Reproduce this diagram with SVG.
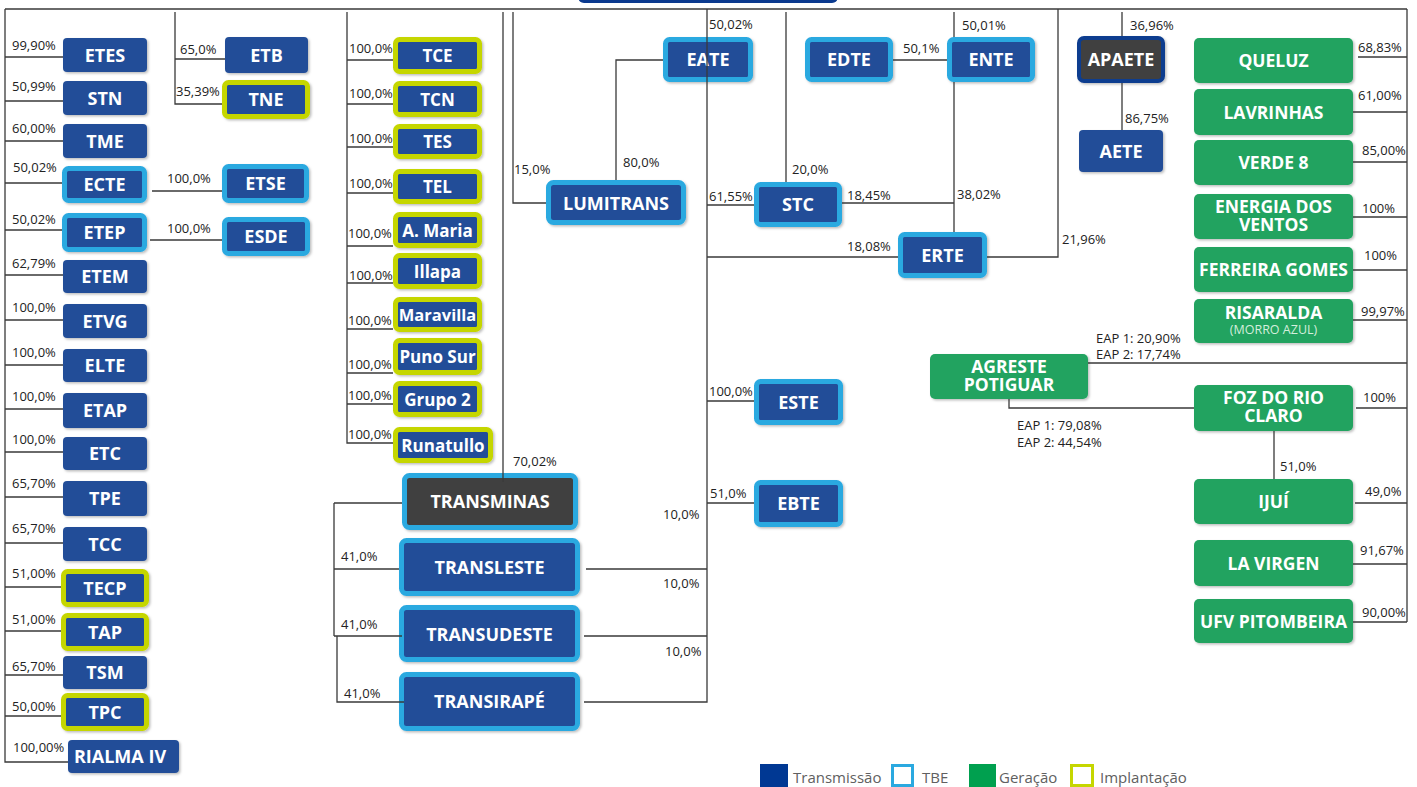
<svg xmlns="http://www.w3.org/2000/svg" width="1417" height="787" viewBox="0 0 1417 787">
<defs>
<filter id="sh" x="-10%" y="-10%" width="130%" height="140%">
<feDropShadow dx="1.5" dy="1.5" stdDeviation="1.2" flood-color="#000" flood-opacity="0.25"/>
</filter>
</defs>
<style>
.b{fill:#224e98;filter:url(#sh)}
.t{fill:#224e98;stroke:#2aa9e0;stroke-width:5;filter:url(#sh)}
.y{fill:#224e98;stroke:#c5d600;stroke-width:5;filter:url(#sh)}
.g{fill:#23a360;filter:url(#sh)}
.d{fill:#404040;stroke:#2aa9e0;stroke-width:5;filter:url(#sh)}
.ap{fill:#404040;stroke:#0d3c8f;stroke-width:4;filter:url(#sh)}
text{font-family:"Open Sans","Noto Sans","Liberation Sans",sans-serif}
.n{fill:#fff;font-weight:700;font-size:18px;text-anchor:middle}
.m{fill:#fff;font-weight:700;font-size:17px;text-anchor:middle}
.gn{fill:#fff;font-weight:700;font-size:17.5px;text-anchor:middle}
.s{fill:#d4eedc;font-size:12.5px;font-weight:400}
.p{fill:#222;font-size:13px}
.lg{fill:#606060;font-size:15px}
.c{fill:none;stroke:#3a3a3a;stroke-width:1.3}
</style>
<rect x="578" y="-30" width="260" height="33" rx="6" fill="#0b3a8f"/>

<g id="ETES"><rect class="b" x="63" y="38" width="84" height="34" rx="4"/><text class="n" x="105" y="61.5">ETES</text></g>
<g id="STN"><rect class="b" x="63" y="81" width="84" height="34" rx="4"/><text class="n" x="105" y="104.5">STN</text></g>
<g id="TME"><rect class="b" x="63" y="124" width="84" height="34" rx="4"/><text class="n" x="105" y="147.5">TME</text></g>
<g id="ECTE"><rect class="t" x="64.5" y="168.5" width="80" height="32" rx="4"/><text class="n" x="104.5" y="191">ECTE</text></g>
<g id="ETEP"><rect class="t" x="64.5" y="215.5" width="80" height="34" rx="4"/><text class="n" x="104.5" y="239">ETEP</text></g>
<g id="ETEM"><rect class="b" x="63" y="260" width="84" height="33" rx="4"/><text class="n" x="105" y="283">ETEM</text></g>
<g id="ETVG"><rect class="b" x="63" y="304" width="84" height="34" rx="4"/><text class="n" x="105" y="327.5">ETVG</text></g>
<g id="ELTE"><rect class="b" x="63" y="349" width="84" height="33" rx="4"/><text class="n" x="105" y="372">ELTE</text></g>
<g id="ETAP"><rect class="b" x="63" y="393" width="84" height="35" rx="4"/><text class="n" x="105" y="417">ETAP</text></g>
<g id="ETC"><rect class="b" x="63" y="437" width="84" height="33" rx="4"/><text class="n" x="105" y="460">ETC</text></g>
<g id="TPE"><rect class="b" x="63" y="481" width="84" height="35" rx="4"/><text class="n" x="105" y="505">TPE</text></g>
<g id="TCC"><rect class="b" x="63" y="527" width="84" height="34" rx="4"/><text class="n" x="105" y="550.5">TCC</text></g>
<g id="TECP"><rect class="y" x="63.5" y="571.5" width="83" height="33" rx="4"/><text class="n" x="105" y="594.5">TECP</text></g>
<g id="TAP"><rect class="y" x="63.5" y="615.5" width="83" height="33" rx="4"/><text class="n" x="105" y="638.5">TAP</text></g>
<g id="TSM"><rect class="b" x="63" y="656" width="84" height="33" rx="4"/><text class="n" x="105" y="679">TSM</text></g>
<g id="TPC"><rect class="y" x="63.5" y="695.5" width="83" height="33" rx="4"/><text class="n" x="105" y="718.5">TPC</text></g>
<g id="RIALMA"><rect class="b" x="68" y="740" width="111" height="33" rx="4"/><text class="n" x="120" y="763">RIALMA  IV</text></g>

<g id="ETB"><rect class="b" x="225" y="37" width="83" height="36" rx="4"/><text class="n" x="266.5" y="61.5">ETB</text></g>
<g id="TNE"><rect class="y" x="224.5" y="82.5" width="83" height="34" rx="4"/><text class="n" x="266" y="106">TNE</text></g>
<g id="ETSE"><rect class="t" x="224.5" y="166.5" width="82" height="34" rx="4"/><text class="n" x="265.5" y="190">ETSE</text></g>
<g id="ESDE"><rect class="t" x="224.5" y="219.5" width="83" height="34" rx="4"/><text class="n" x="266" y="243">ESDE</text></g>

<g id="TCE"><rect class="y" x="395.5" y="39.5" width="84" height="32" rx="4"/><text class="m" x="437.5" y="62">TCE</text></g>
<g id="TCN"><rect class="y" x="395.5" y="83.5" width="84" height="31" rx="4"/><text class="m" x="437.5" y="105.5">TCN</text></g>
<g id="TES"><rect class="y" x="395.5" y="126.5" width="84" height="30" rx="4"/><text class="m" x="437.5" y="148">TES</text></g>
<g id="TEL"><rect class="y" x="395.5" y="171.5" width="84" height="30" rx="4"/><text class="m" x="437.5" y="193">TEL</text></g>
<g id="AMaria"><rect class="y" x="395.5" y="214.5" width="84" height="31" rx="4"/><text class="m" x="437.5" y="236.5">A. Maria</text></g>
<g id="Illapa"><rect class="y" x="395.5" y="255.5" width="84" height="31" rx="4"/><text class="m" x="437.5" y="277.5">Illapa</text></g>
<g id="Maravilla"><rect class="y" x="395.5" y="299.5" width="84" height="30" rx="4"/><text class="m" x="437.5" y="321" style="font-size:16.5px">Maravilla</text></g>
<g id="PunoSur"><rect class="y" x="395.5" y="340.5" width="84" height="32" rx="4"/><text class="m" x="437.5" y="363">Puno Sur</text></g>
<g id="Grupo2"><rect class="y" x="395.5" y="383.5" width="84" height="31" rx="4"/><text class="m" x="437.5" y="405.5">Grupo 2</text></g>
<g id="Runatullo"><rect class="y" x="395.5" y="429.5" width="95" height="31" rx="4"/><text class="m" x="443" y="451.5">Runatullo</text></g>

<g id="TRANSMINAS"><rect class="d" x="404.5" y="475.5" width="171" height="52" rx="5"/><text class="n" x="490" y="508">TRANSMINAS</text></g>
<g id="TRANSLESTE"><rect class="t" x="401.5" y="540.5" width="176" height="53" rx="5"/><text class="n" x="489.5" y="574">TRANSLESTE</text></g>
<g id="TRANSUDESTE"><rect class="t" x="401.5" y="607.5" width="176" height="52" rx="5"/><text class="n" x="489.5" y="641">TRANSUDESTE</text></g>
<g id="TRANSIRAPE"><rect class="t" x="401.5" y="674.5" width="176" height="54" rx="5"/><text class="n" x="489.5" y="708">TRANSIRAPÉ</text></g>

<g id="LUMITRANS"><rect class="t" x="548.5" y="182.5" width="135" height="40" rx="5"/><text class="n" x="616" y="209.5">LUMITRANS</text></g>
<g id="EATE"><rect class="t" x="665.5" y="39.5" width="85" height="40" rx="4"/><text class="n" x="708" y="66">EATE</text></g>
<g id="STC"><rect class="t" x="756.5" y="184.5" width="83" height="40" rx="4"/><text class="n" x="798" y="211">STC</text></g>
<g id="EDTE"><rect class="t" x="807.5" y="39.5" width="83" height="40" rx="4"/><text class="n" x="849" y="66">EDTE</text></g>
<g id="ENTE"><rect class="t" x="949.5" y="39.5" width="83" height="40" rx="4"/><text class="n" x="991" y="66">ENTE</text></g>
<g id="ERTE"><rect class="t" x="900.5" y="234.5" width="84" height="41" rx="4"/><text class="n" x="942.5" y="261.5">ERTE</text></g>
<g id="ESTE"><rect class="t" x="756.5" y="381.5" width="84" height="41" rx="4"/><text class="n" x="798.5" y="408.5">ESTE</text></g>
<g id="EBTE"><rect class="t" x="756.5" y="482.5" width="84" height="42" rx="4"/><text class="n" x="798.5" y="510">EBTE</text></g>
<g id="APAETE"><rect class="ap" x="1079" y="38" width="84" height="43" rx="5"/><text class="n" x="1121" y="66">APAETE</text></g>
<g id="AETE"><rect class="b" x="1079" y="130" width="84" height="42" rx="4"/><text class="n" x="1121" y="157.5">AETE</text></g>

<g id="QUELUZ"><rect class="g" x="1194" y="38" width="159" height="45" rx="5"/><text class="gn" x="1273.5" y="67">QUELUZ</text></g>
<g id="LAVRINHAS"><rect class="g" x="1194" y="89" width="159" height="46" rx="5"/><text class="gn" x="1273.5" y="118.5">LAVRINHAS</text></g>
<g id="VERDE8"><rect class="g" x="1194" y="140" width="159" height="45" rx="5"/><text class="gn" x="1273.5" y="169">VERDE 8</text></g>
<g id="ENERGIA"><rect class="g" x="1194" y="194" width="159" height="45" rx="5"/><text class="gn" x="1273.5" y="213">ENERGIA DOS<tspan x="1273.5" dy="18">VENTOS</tspan></text></g>
<g id="FERREIRA"><rect class="g" x="1194" y="247" width="159" height="45" rx="5"/><text class="gn" x="1273.5" y="276">FERREIRA GOMES</text></g>
<g id="RISARALDA"><rect class="g" x="1194" y="299" width="159" height="44" rx="5"/><text class="gn" x="1273.5" y="319">RISARALDA<tspan class="s" x="1273.5" dy="15">(MORRO AZUL)</tspan></text></g>
<g id="AGRESTE"><rect class="g" x="930" y="354" width="158" height="45" rx="5"/><text class="gn" x="1009" y="373">AGRESTE<tspan x="1009" dy="18">POTIGUAR</tspan></text></g>
<g id="FOZ"><rect class="g" x="1194" y="385" width="159" height="46" rx="5"/><text class="gn" x="1273.5" y="404">FOZ DO RIO<tspan x="1273.5" dy="18">CLARO</tspan></text></g>
<g id="IJUI"><rect class="g" x="1194" y="479" width="159" height="45" rx="5"/><text class="gn" x="1273.5" y="508">IJUÍ</text></g>
<g id="LAVIRGEN"><rect class="g" x="1194" y="540" width="159" height="46" rx="5"/><text class="gn" x="1273.5" y="569.5">LA VIRGEN</text></g>
<g id="UFV"><rect class="g" x="1194" y="599" width="159" height="44" rx="5"/><text class="gn" x="1273.5" y="627.5">UFV PITOMBEIRA</text></g>

<g id="connectors" class="c">
<path d="M5,9 H1407 M5,9 V762 H68"/>
<path d="M5,57 H63 M5,101 H63 M5,141 H63 M5,183 H62 M5,230 H62 M5,275 H63 M5,320 H63 M5,365 H63 M5,409 H63 M5,452 H63 M5,497 H63 M5,543 H63 M5,587 H61 M5,631 H61 M5,675 H63 M5,716 H61"/>
<path d="M175,12 V104 H222 M175,59 H225 M152,191 H222 M150,240 H222"/>
<path d="M347,12 V443 H393 M347,60 H393 M347,104 H393 M347,147 H393 M347,193 H393 M347,246 H393 M347,283 H393 M347,329 H393 M347,373 H393 M347,404 H393"/>
<path d="M503,12 V482 M513,12 V203 H546 M616,180 V60 H663"/>
<path d="M707,9 V702 H584 M707,205 H754 M707,257 H898 M707,401 H754 M707,503 H754 M586,569 H707 M584,636 H707"/>
<path d="M334,503 H402 M334,503 V636 M334,569 H399 M334,636 H402 M337,636 V702 H404"/>
<path d="M786,12 V182 M842,203 H954 M893,60 H947 M954,12 V37 M954,82 V232 M987,257 H1058 V9 M1122,12 V36 M1122,83 V130"/>
<path d="M1407,9 V622 M1358,57 H1407 M1353,112 H1407 M1353,162 H1407 M1353,217 H1407 M1353,270 H1407 M1353,320 H1407 M1088,363 H1407 M1009,399 V408 H1194 M1356,408 H1407 M1274,431 V479 M1355,503 H1407 M1353,564 H1407 M1353,622 H1407"/>
</g>

<g id="labels" class="p">
<text x="12" y="50">99,90%</text>
<text x="12" y="91">50,99%</text>
<text x="12" y="133">60,00%</text>
<text x="13" y="172">50,02%</text>
<text x="12" y="224">50,02%</text>
<text x="12" y="268">62,79%</text>
<text x="12" y="312">100,0%</text>
<text x="12" y="357">100,0%</text>
<text x="12" y="401">100,0%</text>
<text x="12" y="444">100,0%</text>
<text x="12" y="488">65,70%</text>
<text x="12" y="533">65,70%</text>
<text x="12" y="578">51,00%</text>
<text x="12" y="624">51,00%</text>
<text x="12" y="671">65,70%</text>
<text x="12" y="711">50,00%</text>
<text x="13" y="752">100,00%</text>
<text x="180" y="54">65,0%</text>
<text x="176" y="96">35,39%</text>
<text x="167" y="183">100,0%</text>
<text x="167" y="233">100,0%</text>
<text x="349" y="53">100,0%</text>
<text x="349" y="98">100,0%</text>
<text x="349" y="143">100,0%</text>
<text x="349" y="188">100,0%</text>
<text x="348" y="238">100,0%</text>
<text x="349" y="280">100,0%</text>
<text x="348" y="325">100,0%</text>
<text x="348" y="369">100,0%</text>
<text x="348" y="400">100,0%</text>
<text x="348" y="439">100,0%</text>
<text x="513" y="466">70,02%</text>
<text x="514" y="174">15,0%</text>
<text x="623" y="167">80,0%</text>
<text x="709" y="29">50,02%</text>
<text x="709" y="201">61,55%</text>
<text x="792" y="174">20,0%</text>
<text x="847" y="200">18,45%</text>
<text x="903" y="53">50,1%</text>
<text x="962" y="30">50,01%</text>
<text x="957" y="199">38,02%</text>
<text x="847" y="251">18,08%</text>
<text x="1062" y="244">21,96%</text>
<text x="1130" y="30">36,96%</text>
<text x="1125" y="123">86,75%</text>
<text x="341" y="561">41,0%</text>
<text x="341" y="629">41,0%</text>
<text x="344" y="698">41,0%</text>
<text x="663" y="519">10,0%</text>
<text x="663" y="588">10,0%</text>
<text x="665" y="656">10,0%</text>
<text x="709" y="396">100,0%</text>
<text x="710" y="498">51,0%</text>
<text x="1358" y="52">68,83%</text>
<text x="1358" y="100">61,00%</text>
<text x="1362" y="155">85,00%</text>
<text x="1362" y="213">100%</text>
<text x="1364" y="260">100%</text>
<text x="1361" y="316">99,97%</text>
<text x="1096" y="343">EAP 1: 20,90%<tspan x="1096" dy="16">EAP 2: 17,74%</tspan></text>
<text x="1017" y="430">EAP 1: 79,08%<tspan x="1017" dy="17">EAP 2: 44,54%</tspan></text>
<text x="1363" y="402">100%</text>
<text x="1280" y="471">51,0%</text>
<text x="1365" y="496">49,0%</text>
<text x="1360" y="555">91,67%</text>
<text x="1362" y="617">90,00%</text>
</g>

<g id="legend">
<rect x="760" y="764" width="28" height="23" fill="#003893"/>
<text class="lg" x="793" y="783">Transmissão</text>
<rect x="892.5" y="765.5" width="20" height="20" fill="#fff" stroke="#2aa9e0" stroke-width="3"/>
<text class="lg" x="922" y="783">TBE</text>
<rect x="969" y="764" width="27" height="23" fill="#00a04f"/>
<text class="lg" x="999" y="783">Geração</text>
<rect x="1071.5" y="765.5" width="21" height="20" fill="#fff" stroke="#c5d600" stroke-width="3"/>
<text class="lg" x="1100" y="783">Implantação</text>
</g>
</svg>
